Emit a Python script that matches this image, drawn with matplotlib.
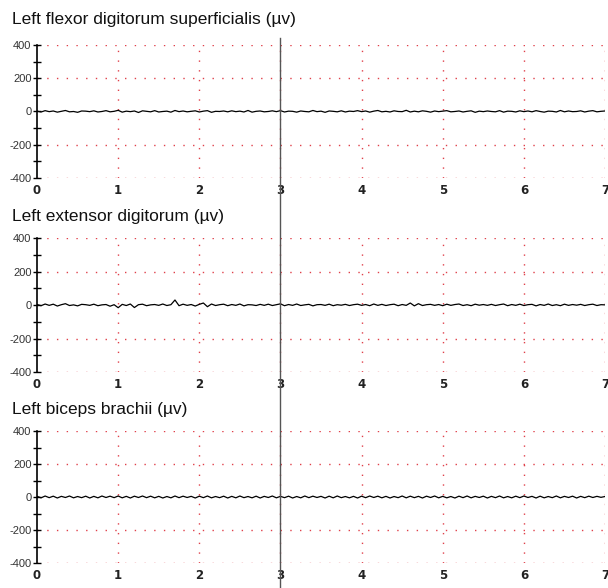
import numpy as np
import matplotlib.pyplot as plt
from matplotlib.lines import Line2D
from matplotlib import transforms

flexor = [2, -3, 5, -1, 3, -4, 1, 6, -2, 0, -5, 3, 2, -1, 4, -3, 0, 5, -2, 1,
          7, -4, 2, -1, 3, -6, 4, 1, -2, 5, -3, 0, 2, -4, 6, -1, 3, -2, 1, 4,
          -3, 2, 5, -5, 1, 0, 3, -2, 4, -1, 2, -3, 6, -4, 1, 3, -2, 0, 4, -1,
          5, -3, 2, 1, -4, 3, 0, -2, 6, -1, 2, -5, 3, 1, -2, 4, -3, 2, 0, 5,
          -1, 3, -4, 2, 6, -2, 1, -3, 4, 0, -1, 7, -3, 2, -2, 4, 1, -4, 3, -1,
          2, 5, -2, 0, 3, -3, 1, 4, -5, 2, -1, 3, 0, -2, 5, -4, 2, 1, -3, 4,
          -1, 3, -2, 5, 0, -4, 2, 1, -3, 6, -2, 3, -1, 0, 4, -3, 2, 5, -2, 1, 3]
extensor = [3, -4, 6, -2, 5, -6, 2, 8, -3, 1, -5, 4, 2, -2, 5, -4, 1, 3, -7, 2,
            -16, 4, -3, 6, -15, 2, 5, -4, 1, 3, -2, 6, -3, 2, 30, -4, 5, -2, 3, -6,
            4, 12, -10, 6, -3, 2, 5, -4, 3, -2, 6, -5, 2, 1, -3, 4, -2, 5, -3, 2,
            7, -4, 3, -2, 6, -3, 1, 4, -5, 2, 3, -2, 5, -4, 2, -1, 4, -3, 2, 5,
            -2, 3, -4, 6, -2, 4, -3, 2, 5, -4, 3, -2, 12, -5, 8, -3, 2, 4, -2, 3,
            -4, 5, -2, 3, 6, -3, 2, -4, 5, -1, 3, -2, 4, -3, 2, 6, -4, 3, -2, 5,
            -3, 2, 4, -5, 3, -2, 6, -3, 2, -4, 5, -2, 3, -1, 4, -3, 2, 5, -3, 2, 1]
biceps = [4, -5, 6, -4, 5, -6, 4, -3, 6, -5, 3, -4, 5, -6, 4, -5, 6, -3, 5, -4,
          6, -5, 4, -6, 5, -3, 6, -4, 5, -5, 4, -6, 3, -5, 6, -4, 5, -3, 4, -6,
          5, -4, 6, -5, 3, -4, 5, -6, 4, -5, 6, -4, 3, -5, 5, -6, 4, -3, 6, -5,
          4, -4, 5, -6, 3, -5, 6, -4, 5, -3, 4, -6, 5, -5, 6, -4, 3, -5, 4, -6,
          5, -4, 6, -3, 5, -5, 4, -6, 3, -4, 6, -5, 5, -4, 4, -6, 5, -3, 6, -5,
          4, -5, 3, -6, 5, -4, 6, -5, 4, -3, 5, -6, 4, -4, 6, -5, 3, -5, 5, -4,
          6, -3, 4, -6, 5, -5, 3, -4, 6, -5, 4, -3, 5, -6, 4, -4, 5, -3, 4, -2, 3]

titles = ["Left flexor digitorum superficialis (\u00b5v)",
          "Left extensor digitorum (\u00b5v)",
          "Left biceps brachii (\u00b5v)"]
traces = [flexor, extensor, biceps]
x_ticks = [0, 1, 2, 3, 4, 5, 6, 7]
y_ticks = [-400, -200, 0, 200, 400]
cursor_t = 3

plt.rcParams['font.family'] = ['Liberation Sans', 'DejaVu Sans']

W, H = 608, 588
fig = plt.figure(figsize=(W / 100, H / 100), dpi=100)
# axes boxes in figure fraction (left, bottom, width, height)
boxes = [(0.0609, 0.6973, 0.9342, 0.2262),
         (0.0609, 0.3673, 0.9342, 0.2279),
         (0.0609, 0.0425, 0.9342, 0.2245)]
title_base = [24, 221, 414]   # baseline of each title, px from top

grid_style = dict(color='#e0404a', lw=1.0, ls=(0, (1, 6)), zorder=1)

axes = []
for box, title, y, tb in zip(boxes, titles, traces, title_base):
    ax = fig.add_axes(box)
    t = np.linspace(0, 7, len(y))
    for g in [-400, -200, 200, 400]:
        ax.axhline(g, **grid_style)
    for g in x_ticks[1:]:
        ax.axvline(g, **grid_style)
    ax.plot(t, y, color='black', lw=0.9, zorder=3)
    ax.set_xlim(0, 7)
    ax.set_ylim(-400, 400)
    for s in ['top', 'right', 'bottom']:
        ax.spines[s].set_visible(False)
    ax.spines['left'].set_color('black')
    ax.spines['left'].set_linewidth(1.2)
    ax.set_yticks(y_ticks)
    ax.set_yticklabels([str(v) for v in y_ticks])
    ax.set_yticks([-300, -100, 100, 300], minor=True)
    ax.tick_params(axis='y', which='both', direction='inout', length=6,
                   width=1, labelsize=8, labelcolor='#333333', pad=1)
    ax.set_xticks(x_ticks)
    ax.set_xticklabels([str(v) for v in x_ticks], fontfamily='DejaVu Sans',
                       fontweight='bold')
    ax.tick_params(axis='x', length=0, labelsize=8.5, pad=4, labelcolor='#222222')
    fig.text(12 / W, 1 - tb / H, title, fontsize=12.5, ha='left',
             va='baseline', color='#111111')
    axes.append(ax)

# cursor line at 3 s running through all three panels
tr = transforms.blended_transform_factory(axes[0].transData, fig.transFigure)
fig.add_artist(Line2D([cursor_t, cursor_t], [1 - 38 / H, 0.0], transform=tr,
                      color='#555555', lw=1.0, zorder=5))

fig.savefig('out.png', dpi=100)
